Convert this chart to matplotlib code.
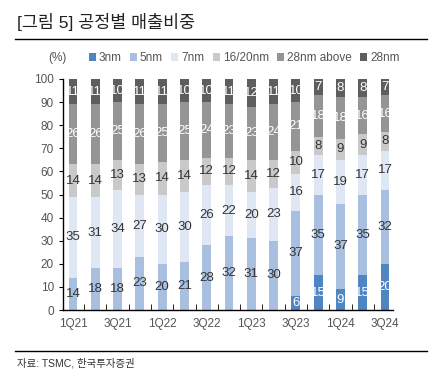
import matplotlib
matplotlib.use("Agg")
import matplotlib.pyplot as plt
import numpy as np

plt.rcParams['font.family'] = ['Liberation Sans', 'Noto Sans CJK KR', 'DejaVu Sans']

quarters = ['1Q21', '2Q21', '3Q21', '4Q21', '1Q22', '2Q22', '3Q22', '4Q22',
            '1Q23', '2Q23', '3Q23', '4Q23', '1Q24', '2Q24', '3Q24']
nm3 = [0, 0, 0, 0, 0, 0, 0, 0, 0, 0, 6, 15, 9, 15, 20]
nm5 = [14, 18, 18, 23, 20, 21, 28, 32, 31, 30, 37, 35, 37, 35, 32]
nm7 = [35, 31, 34, 27, 30, 30, 26, 22, 20, 23, 16, 17, 19, 17, 17]
nm16_20 = [14, 14, 13, 13, 14, 14, 12, 12, 14, 12, 10, 8, 9, 9, 8]
nm28_above = [26, 26, 25, 26, 25, 25, 24, 23, 23, 24, 21, 18, 18, 16, 16]
nm28 = [11, 11, 10, 11, 11, 10, 10, 11, 12, 11, 10, 7, 8, 8, 7]

series = [
    ('3nm', nm3, '#4f86c2', 'white'),
    ('5nm', nm5, '#a9bfe0', '#333333'),
    ('7nm', nm7, '#dfe7f4', '#333333'),
    ('16/20nm', nm16_20, '#c9c9c9', '#333333'),
    ('28nm above', nm28_above, '#959595', 'white'),
    ('28nm', nm28, '#5e5e5e', 'white'),
]

fig = plt.figure(figsize=(4.36, 3.79), dpi=100)
ax = fig.add_axes([0.1445, 0.182, 0.7565, 0.6096])

x = np.arange(len(quarters))
bottom = np.zeros(len(quarters))
for name, vals, color, tcolor in series:
    vals = np.array(vals, dtype=float)
    ax.bar(x, vals, 0.4, bottom=bottom, color=color, label=name)
    for xi, b, v in zip(x, bottom, vals):
        if v > 0:
            ax.text(xi, b + v / 2, str(int(v)), ha='center', va='center',
                    fontsize=9.5, color=tcolor)
    bottom += vals

ax.set_xlim(-0.45, 14.35)
ax.set_ylim(0, 100)
ax.set_yticks(range(0, 101, 10))
ax.set_xticks(x[::2])
ax.set_xticklabels(quarters[::2])
ax.set_xticks(x[:-1] + 0.5, minor=True)
ax.tick_params(axis='x', which='major', length=0, labelsize=8.5, colors='#555555', pad=6)
ax.tick_params(axis='x', which='minor', direction='in', length=4, color='black')
ax.tick_params(axis='y', direction='out', length=3, labelsize=8.5, labelcolor='#555555')
for s in ['top', 'right']:
    ax.spines[s].set_visible(False)
ax.spines['left'].set_linewidth(1)
ax.spines['bottom'].set_linewidth(1)

fig.text(0.039, 0.942, '[그림 5] 공정별 매출비중', fontsize=12.5, va='center', color='#222222')
fig.add_artist(plt.Line2D([0.034, 0.979], [0.898, 0.898], color='black', lw=1))
fig.text(0.11, 0.847, '(%)', fontsize=8.5, va='center', color='#555555')
fig.legend(loc='center', bbox_to_anchor=(0.56, 0.847), ncol=6, frameon=False,
           fontsize=8.5, handlelength=0.6, handleheight=0.6, handletextpad=0.25,
           columnspacing=0.7, labelcolor='#555555')

fig.add_artist(plt.Line2D([0.034, 0.979], [0.073, 0.073], color='black', lw=1))
fig.text(0.039, 0.042, '자료: TSMC, 한국투자증권', fontsize=7.5, va='center', color='#333333')

plt.savefig('out.png', dpi=100)
